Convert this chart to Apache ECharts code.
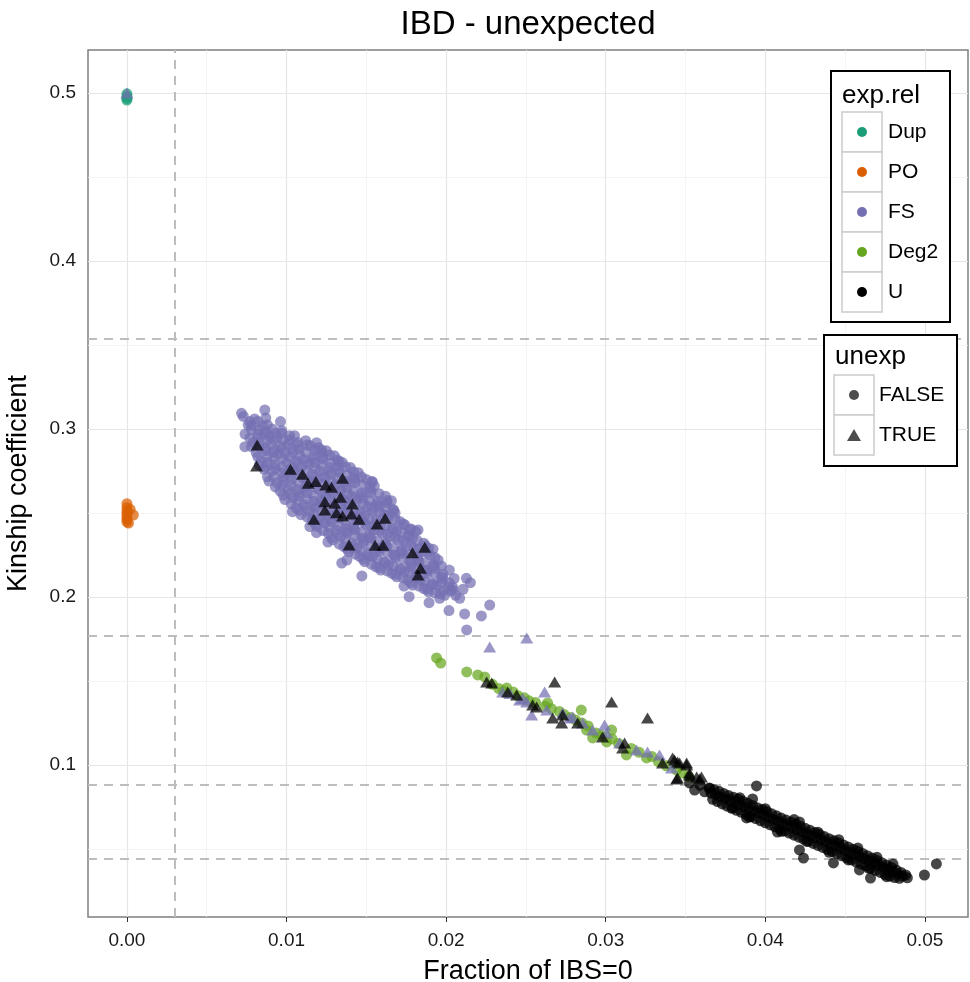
<!DOCTYPE html>
<html>
<head>
<meta charset="utf-8">
<script src="https://cdn.jsdelivr.net/npm/echarts@6/dist/echarts.min.js"></script>
<style>
  html, body { margin: 0; padding: 0; background: #fff; }
  #chart { width: 970px; height: 982px; }
</style>
</head>
<body>
<div id="chart"></div>
<script>
// ---- data: [fraction IBS=0, kinship] ----
// exp.rel = FS, unexp = FALSE (the big purple cloud)
const fsFalse = [
  [0.0074,0.297],[0.0076,0.3025],[0.0073,0.3075],
  [0.0081,0.286],[0.0079,0.292],[0.0082,0.297],[0.0078,0.302],[0.0080,0.306],
  [0.0086,0.276],[0.0084,0.281],[0.0087,0.287],[0.0083,0.292],[0.0086,0.297],[0.0085,0.302],
  [0.0089,0.269],[0.0091,0.275],[0.0088,0.280],[0.0092,0.286],[0.0090,0.291],[0.0089,0.296],[0.0091,0.300],
  [0.0096,0.263],[0.0094,0.268],[0.0097,0.274],[0.0093,0.279],[0.0095,0.285],[0.0096,0.290],[0.0094,0.295],[0.0097,0.299],
  [0.0099,0.258],[0.0101,0.264],[0.0098,0.269],[0.0102,0.275],[0.0100,0.280],[0.0099,0.286],[0.0101,0.291],[0.0102,0.296],
  [0.0106,0.253],[0.0104,0.259],[0.0107,0.264],[0.0103,0.270],[0.0105,0.275],[0.0106,0.281],[0.0104,0.286],[0.0107,0.292],[0.0105,0.296],
  [0.0109,0.249],[0.0111,0.255],[0.0108,0.260],[0.0112,0.266],[0.0110,0.271],[0.0109,0.277],[0.0111,0.282],[0.0108,0.288],[0.0112,0.293],
  [0.0116,0.246],[0.0114,0.251],[0.0117,0.257],[0.0113,0.262],[0.0115,0.268],[0.0116,0.273],[0.0114,0.279],[0.0117,0.284],[0.0115,0.290],
  [0.0119,0.242],[0.0121,0.247],[0.0118,0.253],[0.0122,0.258],[0.0120,0.264],[0.0119,0.269],[0.0121,0.275],[0.0118,0.280],[0.0122,0.286],[0.0120,0.289],
  [0.0126,0.238],[0.0124,0.244],[0.0127,0.249],[0.0123,0.255],[0.0125,0.260],[0.0126,0.266],[0.0124,0.271],[0.0127,0.277],[0.0123,0.282],[0.0125,0.287],
  [0.0129,0.234],[0.0131,0.240],[0.0128,0.245],[0.0132,0.251],[0.0130,0.256],[0.0129,0.262],[0.0131,0.267],[0.0128,0.273],[0.0132,0.278],[0.0130,0.284],
  [0.0136,0.230],[0.0134,0.236],[0.0137,0.241],[0.0133,0.247],[0.0135,0.252],[0.0136,0.258],[0.0134,0.263],[0.0137,0.269],[0.0133,0.274],[0.0135,0.280],
  [0.0139,0.227],[0.0141,0.232],[0.0138,0.238],[0.0142,0.243],[0.0140,0.249],[0.0139,0.254],[0.0141,0.260],[0.0138,0.265],[0.0142,0.271],[0.0140,0.277],
  [0.0146,0.224],[0.0144,0.229],[0.0147,0.235],[0.0143,0.240],[0.0145,0.246],[0.0146,0.251],[0.0144,0.257],[0.0147,0.262],[0.0143,0.268],[0.0145,0.274],
  [0.0149,0.221],[0.0151,0.226],[0.0148,0.232],[0.0152,0.237],[0.0150,0.243],[0.0149,0.248],[0.0151,0.254],[0.0148,0.259],[0.0152,0.265],[0.0150,0.270],
  [0.0156,0.218],[0.0154,0.224],[0.0157,0.229],[0.0153,0.235],[0.0155,0.240],[0.0156,0.246],[0.0154,0.251],[0.0157,0.257],[0.0153,0.262],[0.0155,0.266],
  [0.0159,0.216],[0.0161,0.221],[0.0158,0.227],[0.0162,0.232],[0.0160,0.238],[0.0159,0.243],[0.0161,0.249],[0.0158,0.254],[0.0162,0.260],
  [0.0166,0.214],[0.0164,0.219],[0.0167,0.225],[0.0163,0.230],[0.0165,0.236],[0.0166,0.241],[0.0164,0.247],[0.0167,0.252],[0.0163,0.256],
  [0.0169,0.212],[0.0171,0.217],[0.0168,0.223],[0.0172,0.228],[0.0170,0.234],[0.0169,0.239],[0.0171,0.245],[0.0168,0.250],
  [0.0176,0.210],[0.0174,0.215],[0.0177,0.221],[0.0173,0.226],[0.0175,0.232],[0.0176,0.237],[0.0174,0.243],
  [0.0179,0.207],[0.0181,0.213],[0.0178,0.218],[0.0182,0.224],[0.0180,0.229],[0.0179,0.235],[0.0181,0.239],
  [0.0186,0.205],[0.0184,0.210],[0.0187,0.216],[0.0183,0.221],[0.0185,0.227],[0.0186,0.232],
  [0.0189,0.203],[0.0191,0.208],[0.0188,0.214],[0.0192,0.219],[0.0190,0.225],[0.0189,0.229],
  [0.0196,0.202],[0.0194,0.207],[0.0197,0.212],[0.0193,0.217],[0.0195,0.222],
  [0.0199,0.201],[0.0201,0.206],[0.0198,0.211],[0.0202,0.216],
  [0.0206,0.201],[0.0204,0.206],[0.0205,0.211],
  // second layer, in the gaps of the first
  [0.0078,0.2895],[0.0077,0.2945],[0.0078,0.2995],[0.0077,0.3045],
  [0.0083,0.2785],[0.0082,0.2835],[0.0083,0.2895],[0.0082,0.2945],[0.0083,0.2995],[0.0082,0.3045],
  [0.0088,0.2715],[0.0087,0.2775],[0.0088,0.2835],[0.0087,0.2885],[0.0088,0.2935],[0.0087,0.2985],[0.0088,0.3025],
  [0.0093,0.2655],[0.0092,0.2715],[0.0093,0.2765],[0.0092,0.2825],[0.0093,0.2875],[0.0092,0.2935],[0.0093,0.2975],
  [0.0098,0.2605],[0.0097,0.2665],[0.0098,0.2715],[0.0097,0.2775],[0.0098,0.2825],[0.0097,0.2885],[0.0098,0.2935],[0.0097,0.2975],
  [0.0103,0.2555],[0.0102,0.2615],[0.0103,0.2665],[0.0102,0.2725],[0.0103,0.2775],[0.0102,0.2835],[0.0103,0.2885],[0.0102,0.2935],
  [0.0108,0.2515],[0.0107,0.2575],[0.0108,0.2625],[0.0107,0.2685],[0.0108,0.2735],[0.0107,0.2795],[0.0108,0.2845],[0.0107,0.2905],
  [0.0113,0.2475],[0.0112,0.2535],[0.0113,0.2585],[0.0112,0.2645],[0.0113,0.2695],[0.0112,0.2755],[0.0113,0.2805],[0.0112,0.2865],[0.0113,0.2905],
  [0.0118,0.2435],[0.0117,0.2495],[0.0118,0.2545],[0.0117,0.2605],[0.0118,0.2655],[0.0117,0.2715],[0.0118,0.2765],[0.0117,0.2825],[0.0118,0.2875],
  [0.0123,0.2395],[0.0122,0.2455],[0.0123,0.2505],[0.0122,0.2565],[0.0123,0.2615],[0.0122,0.2675],[0.0123,0.2725],[0.0122,0.2785],[0.0123,0.2835],[0.0122,0.2875],
  [0.0128,0.2355],[0.0127,0.2415],[0.0128,0.2465],[0.0127,0.2525],[0.0128,0.2575],[0.0127,0.2635],[0.0128,0.2685],[0.0127,0.2745],[0.0128,0.2795],[0.0127,0.2845],
  [0.0133,0.2315],[0.0132,0.2375],[0.0133,0.2425],[0.0132,0.2485],[0.0133,0.2535],[0.0132,0.2595],[0.0133,0.2645],[0.0132,0.2705],[0.0133,0.2755],[0.0132,0.2815],
  [0.0138,0.2285],[0.0137,0.2345],[0.0138,0.2395],[0.0137,0.2455],[0.0138,0.2505],[0.0137,0.2565],[0.0138,0.2615],[0.0137,0.2675],[0.0138,0.2725],[0.0137,0.2775],
  [0.0143,0.2255],[0.0142,0.2305],[0.0143,0.2365],[0.0142,0.2415],[0.0143,0.2475],[0.0142,0.2525],[0.0143,0.2585],[0.0142,0.2635],[0.0143,0.2695],[0.0142,0.2745],
  [0.0148,0.2225],[0.0147,0.2275],[0.0148,0.2335],[0.0147,0.2385],[0.0148,0.2445],[0.0147,0.2495],[0.0148,0.2555],[0.0147,0.2605],[0.0148,0.2665],[0.0147,0.2715],
  [0.0153,0.2195],[0.0152,0.2245],[0.0153,0.2305],[0.0152,0.2355],[0.0153,0.2415],[0.0152,0.2465],[0.0153,0.2525],[0.0152,0.2575],[0.0153,0.2635],
  [0.0158,0.2175],[0.0157,0.2225],[0.0158,0.2285],[0.0157,0.2335],[0.0158,0.2395],[0.0157,0.2445],[0.0158,0.2505],[0.0157,0.2555],[0.0158,0.2615],
  [0.0163,0.2155],[0.0162,0.2205],[0.0163,0.2265],[0.0162,0.2315],[0.0163,0.2375],[0.0162,0.2425],[0.0163,0.2485],[0.0162,0.2535],[0.0163,0.2575],
  [0.0168,0.2135],[0.0167,0.2185],[0.0168,0.2245],[0.0167,0.2295],[0.0168,0.2355],[0.0167,0.2405],[0.0168,0.2465],[0.0167,0.2515],
  [0.0173,0.2115],[0.0172,0.2165],[0.0173,0.2225],[0.0172,0.2275],[0.0173,0.2335],[0.0172,0.2385],[0.0173,0.2435],
  [0.0178,0.2085],[0.0177,0.2145],[0.0178,0.2195],[0.0177,0.2255],[0.0178,0.2305],[0.0177,0.2365],[0.0178,0.2405],
  [0.0183,0.2065],[0.0182,0.2115],[0.0183,0.2175],[0.0182,0.2225],[0.0183,0.2285],[0.0182,0.2335],
  [0.0188,0.2045],[0.0187,0.2095],[0.0188,0.2155],[0.0187,0.2205],[0.0188,0.2265],[0.0187,0.2305],
  [0.0193,0.2025],[0.0192,0.2075],[0.0193,0.2135],[0.0192,0.2185],[0.0193,0.2235],
  [0.0198,0.2035],[0.0197,0.2085],[0.0198,0.2135],[0.0197,0.2185],
  [0.0203,0.2035],[0.0202,0.2085],
  // loose points round the cloud
  [0.00718,0.3093],[0.00864,0.3113],[0.0087,0.3065],[0.00962,0.3044],[0.00739,0.2895],
  [0.01188,0.2918],[0.0133,0.2806],[0.01538,0.2687],[0.01657,0.2573],[0.01772,0.2403],
  [0.01824,0.2399],[0.01918,0.2284],[0.02127,0.2111],[0.02152,0.2085],[0.02106,0.2046],
  [0.02273,0.1952],[0.02221,0.1887],[0.02129,0.1804],[0.02116,0.1899],[0.02018,0.1919],
  [0.01893,0.1966],[0.01768,0.2002],[0.01736,0.2065],[0.0196,0.1992],[0.02043,0.2042],
  [0.02085,0.1992],[0.01037,0.2508],[0.01146,0.2419],[0.01188,0.2383],[0.01259,0.2327],
  [0.01346,0.2202],[0.01378,0.222],[0.01472,0.2125],[0.01534,0.2685]
];

// exp.rel = PO, unexp = FALSE
const poFalse = [
  [0,0.2555],[0,0.2532],[0,0.2512],[0,0.2495],[0,0.2478],[0,0.2462],[0,0.2447],
  [0.0004,0.2488],[0.0002,0.2522],[0.0001,0.2440]
];

// exp.rel = Dup, unexp = FALSE
const dupFalse = [[0,0.4995],[0,0.498],[0,0.4968],[0,0.4958]];

// exp.rel = Deg2, unexp = FALSE
const deg2False = [
  [0.0194,0.1637],[0.01966,0.1607],[0.02129,0.1554],[0.02198,0.1536],[0.02242,0.1524],
  [0.0229,0.1480],[0.0233,0.1455],[0.0236,0.1440],[0.0238,0.1458],[0.0242,0.1435],
  [0.0245,0.1412],[0.0249,0.1400],[0.0252,0.1382],[0.0256,0.1372],[0.02636,0.1369],
  [0.0262,0.1350],[0.0266,0.1335],[0.0271,0.1318],[0.0274,0.1300],[0.0278,0.1283],
  [0.0281,0.1268],[0.02847,0.1327],[0.0285,0.1250],[0.0288,0.1208],[0.0289,0.1232],
  [0.02918,0.1161],[0.0294,0.1190],[0.02975,0.1175],[0.03006,0.1137],[0.03037,0.1208],
  [0.0304,0.1155],[0.0308,0.1128],[0.0313,0.1060],[0.0316,0.1098],[0.0321,0.1075],
  [0.03256,0.1042],[0.0329,0.1050],[0.0333,0.1020],[0.0338,0.0995],[0.03444,0.0970],
  [0.0348,0.0952],[0.0352,0.0930]
];

// exp.rel = U, unexp = FALSE (the black streak)
const uFalse = [
  [0.03525,0.0893],[0.03557,0.0851],[0.0365,0.0863],[0.0359,0.0880],[0.0362,0.0840],
  [0.0365,0.0860],[0.0366,0.0832],
  [0.0368,0.0852],[0.0369,0.0822],[0.0367,0.0796],
  [0.0371,0.0843],[0.0372,0.0810],[0.0370,0.0782],
  [0.0374,0.0830],[0.0375,0.0798],[0.0373,0.0768],
  [0.0377,0.0818],[0.0378,0.0787],[0.0376,0.0755],
  [0.0380,0.0808],[0.0381,0.0776],[0.0379,0.0742],[0.03795,0.0744],
  [0.0383,0.0796],[0.0384,0.0763],[0.0382,0.0730],
  [0.0386,0.0784],[0.0387,0.0750],[0.0385,0.0718],[0.03882,0.0685],
  [0.0389,0.0772],[0.0390,0.0738],[0.0388,0.0706],
  [0.0392,0.0759],[0.0393,0.0725],[0.0391,0.0693],[0.0392,0.0798],
  [0.0395,0.0746],[0.0396,0.0713],[0.0394,0.0681],[0.03945,0.0875],
  [0.0398,0.0735],[0.0399,0.0701],[0.0397,0.0668],
  [0.0401,0.0722],[0.0402,0.0688],[0.0400,0.0656],
  [0.0404,0.0709],[0.0405,0.0676],[0.0403,0.0644],
  [0.0407,0.0697],[0.0408,0.0664],[0.0406,0.0632],[0.04076,0.0601],
  [0.0410,0.0684],[0.0411,0.0651],[0.0409,0.0619],
  [0.0413,0.0672],[0.0414,0.0639],[0.0412,0.0607],
  [0.0416,0.0660],[0.0417,0.0627],[0.0415,0.0595],
  [0.0419,0.0647],[0.0420,0.0614],[0.0418,0.0582],[0.04214,0.0661],
  [0.0422,0.0635],[0.0423,0.0602],[0.0421,0.0570],[0.04214,0.0494],[0.04239,0.0446],
  [0.0425,0.0623],[0.0426,0.0590],[0.0424,0.0558],
  [0.0428,0.0611],[0.0429,0.0578],[0.0427,0.0546],
  [0.0431,0.0598],[0.0432,0.0565],[0.0430,0.0533],
  [0.0434,0.0586],[0.0435,0.0553],[0.0433,0.0521],
  [0.0437,0.0574],[0.0438,0.0541],[0.0436,0.0509],
  [0.0440,0.0561],[0.0441,0.0528],[0.0439,0.0496],
  [0.0443,0.0549],[0.0444,0.0516],[0.0442,0.0484],[0.04427,0.0417],
  [0.0446,0.0536],[0.0447,0.0504],[0.0445,0.0472],
  [0.0449,0.0524],[0.0450,0.0491],[0.0448,0.0459],
  [0.0452,0.0511],[0.0453,0.0479],[0.0451,0.0447],
  [0.0455,0.0499],[0.0456,0.0467],[0.0454,0.0435],
  [0.0458,0.0486],[0.0459,0.0454],[0.0457,0.0422],[0.0459,0.0375],
  [0.0461,0.0473],[0.0462,0.0442],[0.0460,0.0410],
  [0.0464,0.0460],[0.0465,0.0430],[0.0463,0.0398],
  [0.0467,0.0446],[0.0468,0.0415],[0.0466,0.0385],[0.04659,0.0327],
  [0.0470,0.0432],[0.0471,0.0402],[0.0469,0.0372],
  [0.0473,0.0418],[0.0474,0.0390],[0.0472,0.0360],
  [0.0476,0.0405],[0.0477,0.0378],[0.0475,0.0348],
  [0.0479,0.0390],[0.0480,0.0364],[0.0478,0.0338],
  [0.0482,0.0375],[0.0483,0.0350],[0.0481,0.0330],
  [0.0485,0.0360],[0.0486,0.0338],[0.0484,0.0325],
  [0.0488,0.0345],[0.0489,0.0328],
  [0.0384,0.0805],[0.0390,0.0690],[0.0400,0.0740],[0.0410,0.0605],[0.0418,0.0675],
  [0.0426,0.0545],[0.0433,0.0600],[0.0440,0.0480],[0.0446,0.0555],[0.0452,0.0435],
  [0.0458,0.0505],[0.0465,0.0385],[0.0470,0.0450],[0.0476,0.0335],[0.0480,0.0410],
  [0.04997,0.0345],[0.05072,0.0411]
];

// exp.rel = FS, unexp = TRUE
const fsTrue = [
  [0,0.5],[0.02273,0.1702],[0.02505,0.1756],[0.02617,0.1435],[0.02536,0.1298],
  [0.02461,0.1387],[0.02505,0.1375],[0.0263,0.1327],[0.0273,0.131],[0.02774,0.128],
  [0.02793,0.1286],[0.02855,0.125],[0.02918,0.1208],[0.02993,0.1238],[0.03006,0.119],
  [0.03087,0.1131],[0.03193,0.1089],[0.03262,0.1077],[0.03337,0.1060],[0.03413,0.0982],
  [0.02354,0.1435],[0.0240,0.1425],[0.0248,0.1395]
];

// exp.rel = U, unexp = TRUE
const uTrue = [
  [0.00816,0.2905],[0.00812,0.278],[0.01025,0.276],[0.011,0.273],[0.01135,0.2677],
  [0.01184,0.2687],[0.01246,0.2667],[0.01282,0.2653],[0.01351,0.2707],[0.0124,0.2567],
  [0.01302,0.2558],[0.01338,0.2594],[0.01413,0.2554],[0.0124,0.2518],[0.01313,0.2502],
  [0.01351,0.2482],[0.01407,0.2494],[0.01455,0.2462],[0.01171,0.2462],[0.01567,0.2434],
  [0.01617,0.2468],[0.01392,0.231],[0.01555,0.2308],[0.01605,0.2308],[0.01789,0.2264],
  [0.01866,0.2296],[0.01839,0.2171],[0.01824,0.2131],
  [0.02254,0.1494],[0.02286,0.1488],[0.02386,0.1435],[0.02442,0.1417],[0.02542,0.1357],
  [0.02567,0.1345],[0.0268,0.1494],[0.02668,0.128],[0.0273,0.1298],[0.02724,0.125],
  [0.02824,0.125],[0.03037,0.1375],[0.0298,0.1167],[0.03118,0.1131],[0.03106,0.1101],
  [0.03262,0.128],[0.03356,0.1012],[0.03419,0.1042],[0.0345,0.1018],[0.03507,0.1012],
  [0.0345,0.0923],[0.03525,0.0952],[0.0357,0.0929],[0.036,0.0929],[0.03431,0.103],
  [0.03463,0.1012],[0.03507,0.1],[0.03444,0.0917],[0.03525,0.094],[0.03588,0.0917]
];

const xTicks = [0, 0.01, 0.02, 0.03, 0.04, 0.05];
const xMinor = [0.005, 0.015, 0.025, 0.035, 0.045];
const yTicks = [0.1, 0.2, 0.3, 0.4, 0.5];
const yMinor = [0.05, 0.15, 0.25, 0.35, 0.45];
// dashed cut-offs
const ibsCut = [0.003];
const kinCuts = [0.3536, 0.1768, 0.0884, 0.0442];

const expRelLevels = ["Dup", "PO", "FS", "Deg2", "U"];
const unexpLevels = ["FALSE", "TRUE"];

const colors = {
  Dup: "#1b9e77",
  PO: "#d95f02",
  FS: "#7570b3",
  Deg2: "#66a61e",
  U: "#000000"
};
const FONT = "'Liberation Sans', Arial, sans-serif";
const ALPHA = 0.72;

const chart = echarts.init(document.getElementById("chart"));

// 散点 series
function pts(name, data, color, shape) {
  return {
    name: name,
    type: "scatter",
    data: data,
    z: 10,
    silent: true,
    symbol: shape === "tri" ? "triangle" : "circle",
    symbolSize: shape === "tri" ? [13, 11] : 11,
    itemStyle: { color: color, opacity: ALPHA },
    animation: false
  };
}

const gridMajor = { color: "#e6e6e6", width: 1.2, type: "solid" };
const gridMinor = { color: "#f1f1f1", width: 0.8, type: "solid" };
const gridLines = []
  .concat(xTicks.map(v => ({ xAxis: v, lineStyle: gridMajor })))
  .concat(xMinor.map(v => ({ xAxis: v, lineStyle: gridMinor })))
  .concat(yTicks.map(v => ({ yAxis: v, lineStyle: gridMajor })))
  .concat(yMinor.map(v => ({ yAxis: v, lineStyle: gridMinor })));

const dashStyle = { color: "#bdbdbd", width: 2, type: [9, 7] };
const cutLines = []
  .concat(ibsCut.map(v => ({ xAxis: v })))
  .concat(kinCuts.map(v => ({ yAxis: v })));

// legend (ggplot style boxes)
const legendEls = [];
function add(el) {
  el.z = 100;
  legendEls.push(el);
}
add({
  type: "rect", shape: { x: 831, y: 71, width: 119, height: 251 },
  style: { fill: "#fff", stroke: "#000", lineWidth: 2 }
});
add({
  type: "text", x: 842, y: 96,
  style: { text: "exp.rel", font: "26px " + FONT, fill: "#000", textVerticalAlign: "middle" }
});
expRelLevels.forEach((lv, i) => {
  const top = 112 + 40 * i;
  add({
    type: "rect", shape: { x: 842, y: top, width: 40, height: 40 },
    style: { fill: "#fff", stroke: "#cccccc", lineWidth: 1.5 }
  });
  add({
    type: "circle", shape: { cx: 862, cy: top + 20, r: 5 },
    style: { fill: colors[lv] }
  });
  add({
    type: "text", x: 888, y: top + 20,
    style: { text: lv, font: "21px " + FONT, fill: "#000", textVerticalAlign: "middle" }
  });
});
add({
  type: "rect", shape: { x: 824, y: 335, width: 133, height: 131 },
  style: { fill: "#fff", stroke: "#000", lineWidth: 2 }
});
add({
  type: "text", x: 835, y: 357,
  style: { text: "unexp", font: "26px " + FONT, fill: "#000", textVerticalAlign: "middle" }
});
unexpLevels.forEach((lv, i) => {
  const top = 375 + 40 * i;
  add({
    type: "rect", shape: { x: 834, y: top, width: 40, height: 40 },
    style: { fill: "#fff", stroke: "#cccccc", lineWidth: 1.5 }
  });
  if (i === 0) {
    add({
      type: "circle", shape: { cx: 854, cy: top + 20, r: 5 },
      style: { fill: "#4d4d4d" }
    });
  } else {
    add({
      type: "polygon", shape: { points: [[847, top + 26], [861, top + 26], [854, top + 14]] },
      style: { fill: "#4d4d4d" }
    });
  }
  add({
    type: "text", x: 879, y: top + 20,
    style: { text: lv, font: "21px " + FONT, fill: "#000", textVerticalAlign: "middle" }
  });
});
add({
  type: "text", x: 528, y: 25,
  style: { text: "IBD - unexpected", font: "33px " + FONT, fill: "#000", textAlign: "center", textVerticalAlign: "middle" }
});

let option = {
  backgroundColor: "#fff",
  animation: false,
  textStyle: { fontFamily: FONT },
  grid: {
    left: 88, top: 50, right: 2, bottom: 65,
    outerBoundsMode: "none",
    containLabel: false,
    show: true, borderColor: "#7f7f7f", borderWidth: 1.5, backgroundColor: "transparent"
  },
  xAxis: {
    type: "value",
    min: -0.00244,
    max: 0.0527,
    name: "Fraction of IBS=0",
    nameLocation: "middle",
    nameGap: 41,
    nameTextStyle: { fontSize: 27, color: "#000", fontFamily: FONT },
    axisLine: { show: false },
    axisTick: { show: true, customValues: xTicks, length: 5, lineStyle: { color: "#333", width: 1 } },
    axisLabel: {
      customValues: xTicks, fontSize: 19, color: "#1a1a1a", margin: 14, fontFamily: FONT,
      formatter: v => v.toFixed(2)
    },
    splitLine: { show: false }
  },
  yAxis: {
    type: "value",
    min: 0.0095,
    max: 0.5256,
    name: "Kinship coefficient",
    nameLocation: "middle",
    nameGap: 56,
    nameTextStyle: { fontSize: 27, color: "#000", fontFamily: FONT },
    axisLine: { show: false },
    axisTick: { show: true, customValues: yTicks, length: 5, lineStyle: { color: "#333", width: 1 } },
    axisLabel: {
      customValues: yTicks, fontSize: 19, color: "#1a1a1a", margin: 12, fontFamily: FONT,
      formatter: v => v.toFixed(1)
    },
    splitLine: { show: false }
  },
  graphic: legendEls,
  series: [
    {
      type: "scatter", data: [], silent: true,
      markLine: { silent: true, z: 1, precision: 6, symbol: "none", label: { show: false }, animation: false, data: gridLines }
    },
    {
      type: "scatter", data: [], silent: true,
      markLine: { silent: true, z: 2, precision: 6, symbol: "none", label: { show: false }, animation: false, lineStyle: dashStyle, data: cutLines }
    },
    pts("FS", fsFalse, colors.FS, "dot"),
    pts("PO", poFalse, colors.PO, "dot"),
    pts("Dup", dupFalse, colors.Dup, "dot"),
    pts("Deg2", deg2False, colors.Deg2, "dot"),
    pts("U", uFalse, colors.U, "dot"),
    pts("FS", fsTrue, colors.FS, "tri"),
    pts("U", uTrue, colors.U, "tri")
  ]
};

chart.setOption(option);
window.addEventListener("resize", () => {
  chart.resize();
});
</script>
</body>
</html>
